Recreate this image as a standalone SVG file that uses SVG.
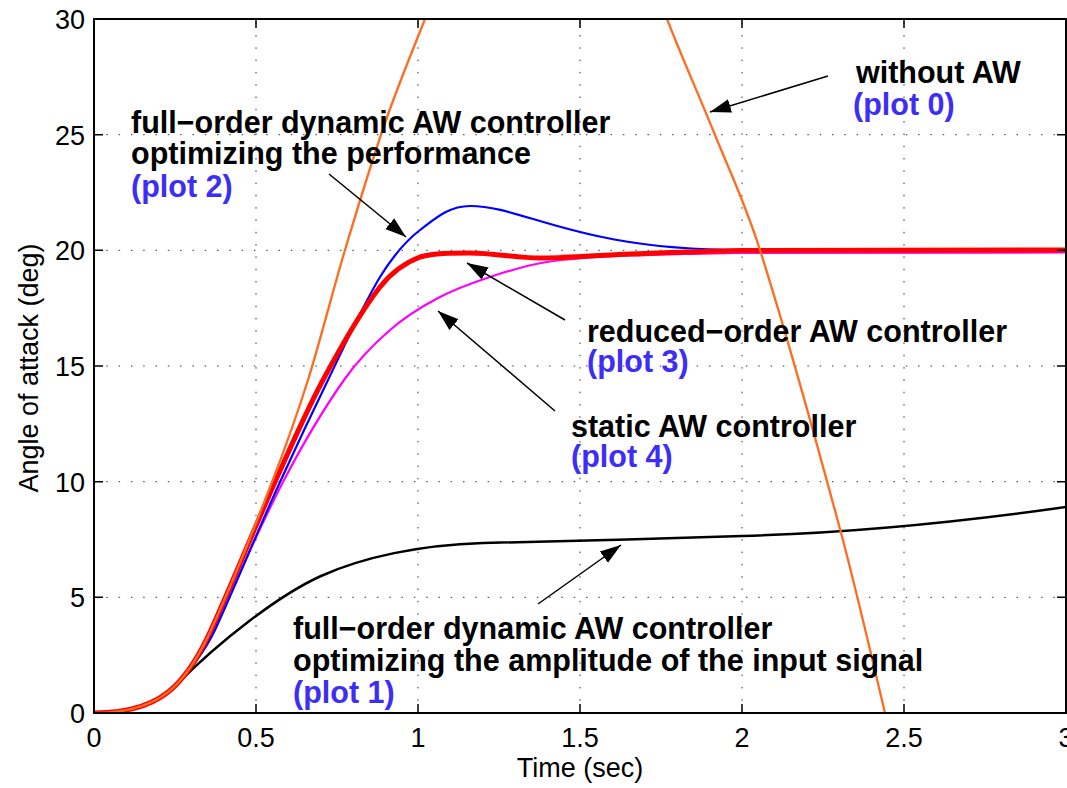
<svg xmlns="http://www.w3.org/2000/svg" width="1067" height="788" viewBox="0 0 1067 788">
<style>
.grid{stroke:#333;stroke-width:1;stroke-dasharray:1.5 10.8;fill:none}
.tick{font-family:"Liberation Sans",Arial,sans-serif;font-size:27px;fill:#000}
.lab{font-family:"Liberation Sans",Arial,sans-serif;font-size:30.5px;font-weight:bold;fill:#000}
.plot{fill:#3d2ef5}
.curve{fill:none;stroke-linejoin:round;stroke-linecap:round}
.arrow{stroke:#000;stroke-width:1.5;fill:none;marker-end:url(#ah)}
</style>
<defs>
<clipPath id="plotclip"><rect x="94" y="19" width="972" height="694"/></clipPath>
<marker id="ah" markerUnits="userSpaceOnUse" markerWidth="22" markerHeight="16" refX="21" refY="7" orient="auto" viewBox="0 0 22 14">
<path d="M0,0 L21,7 L0,14 z" fill="#000"/>
</marker>
</defs>
<rect x="0" y="0" width="1067" height="788" fill="#fff"/>
<g id="grid">
<path class="grid" d="M256,713V19M418,713V19M580,713V19M742,713V19M904,713V19"/>
<path class="grid" d="M94,134.7H1066M94,250.3H1066M94,366H1066M94,481.7H1066M94,597.3H1066"/>
</g>
<g id="curves" clip-path="url(#plotclip)">
<path id="plot1" class="curve" stroke="#000" stroke-width="2.5" d="M94,713 C130,713 157,704 175,686 C222,639 280,594.5 321,576 C363,557 420,545 483,543 C560,541 660,539 742,536 C850,533 960,522 1066,507"/>
<path id="plot4" class="curve" stroke="#ff00ff" stroke-width="2.2" d="M94,713 C130,713 157,704 175,686 C188,673 204,651 214,630 C237,579 260,526 283,482 C303,443.6 324,408.4 344,380 C359,358.7 375,343 390,330 C406,316 422,306.5 438,298 C455,289 473,282.6 490,277 C509,270.7 528,264.9 547,262 C575,257.8 602,256.5 630,255.5 C667,254.3 705,253 742,252.8 L1066,252.5"/>
<path id="plot2" class="curve" stroke="#0000ff" stroke-width="2.2" d="M94,713 C130,713 157,704 175,686 C188,673 205,651 215,630 C237,582 258,530 280,482 C296,447 312,413 328,380 C345,345 363,305 380,277 C393,256 407,240 420,230 C437,217 450,206 470,206 C525,206 575,250 742,250 L1066,249.5"/>
<path id="plot3" class="curve" stroke="#ff0000" stroke-width="5" d="M94,713 C130,713 157,704 175,686 C187,674 201,652 211,630 C231,586 255,527 275,482 C291,446 307,409.7 323,380 C342,344.7 361,311 380,287 C393,270.5 407,262 420,257 C435,253 450,253 470,253 C495,253 515,258 540,258 C570,258 600,255 630,254 C670,253 705,251 742,250.5 L1066,250"/>
<path id="plot0" class="curve" stroke="#ff6b1f" stroke-width="2.3" d="M94,713 C130,713 157,704 175,686 C187,674 201,652 211,630 C231,586 252,534.4 272,482 C284,451 296,418 308,380 C320,341.8 333,290 345,250 C358,206.6 372,160.4 385,123 C398,85.4 412,52 425,19 C440,-22 500,-125 545,-125 C595,-125 648,-30 667,19 C683,60 699,95.4 715,135 C730,172 745,202.8 760,250 C787,335 813,429 840,529 C855,584.5 870,650 885,713 L897,765"/>
</g>
<g id="axes">
<rect x="94" y="19" width="972" height="694" fill="none" stroke="#000" stroke-width="2"/>
<path stroke="#000" stroke-width="1.5" fill="none" d="M256,713v-9M418,713v-9M580,713v-9M742,713v-9M904,713v-9M256,19v9M418,19v9M580,19v9M742,19v9M904,19v9M94,597.3h9M94,481.7h9M94,366h9M94,250.3h9M94,134.7h9M1066,597.3h-9M1066,481.7h-9M1066,366h-9M1066,250.3h-9M1066,134.7h-9"/>
<g class="tick" text-anchor="middle">
<text x="94" y="747">0</text>
<text x="256" y="747">0.5</text>
<text x="418" y="747">1</text>
<text x="580" y="747">1.5</text>
<text x="742" y="747">2</text>
<text x="904" y="747">2.5</text>
<text x="1066" y="747">3</text>
</g>
<g class="tick" text-anchor="end">
<text x="85" y="723">0</text>
<text x="85" y="607.3">5</text>
<text x="85" y="491.7">10</text>
<text x="85" y="376">15</text>
<text x="85" y="260.3">20</text>
<text x="85" y="144.7">25</text>
<text x="85" y="29">30</text>
</g>
<text class="tick" x="580" y="777" text-anchor="middle">Time (sec)</text>
<text class="tick" transform="translate(38,368) rotate(-90)" text-anchor="middle">Angle of attack (deg)</text>
</g>
<g id="label-plot0">
<text class="lab" x="856" y="83">without AW</text>
<text class="lab plot" x="853" y="115">(plot 0)</text>
</g>
<g id="label-plot2">
<text class="lab" x="131" y="133">full−order dynamic AW controller</text>
<text class="lab" x="131" y="164">optimizing the performance</text>
<text class="lab plot" x="131" y="197">(plot 2)</text>
</g>
<g id="label-plot3">
<text class="lab" x="587" y="342">reduced−order AW controller</text>
<text class="lab plot" x="587" y="372">(plot 3)</text>
</g>
<g id="label-plot4">
<text class="lab" x="571" y="437">static AW controller</text>
<text class="lab plot" x="571" y="467">(plot 4)</text>
</g>
<g id="label-plot1">
<text class="lab" x="293" y="639">full−order dynamic AW controller</text>
<text class="lab" x="293" y="671">optimizing the amplitude of the input signal</text>
<text class="lab plot" x="293" y="703">(plot 1)</text>
</g>
<g id="connectors">
<line class="arrow" x1="329" y1="174" x2="406" y2="237"/>
<line class="arrow" x1="828" y1="76" x2="710" y2="112"/>
<line class="arrow" x1="565" y1="320" x2="467" y2="263"/>
<line class="arrow" x1="555" y1="411" x2="438" y2="311"/>
<line class="arrow" x1="538" y1="604" x2="621" y2="545"/>
</g>
</svg>
